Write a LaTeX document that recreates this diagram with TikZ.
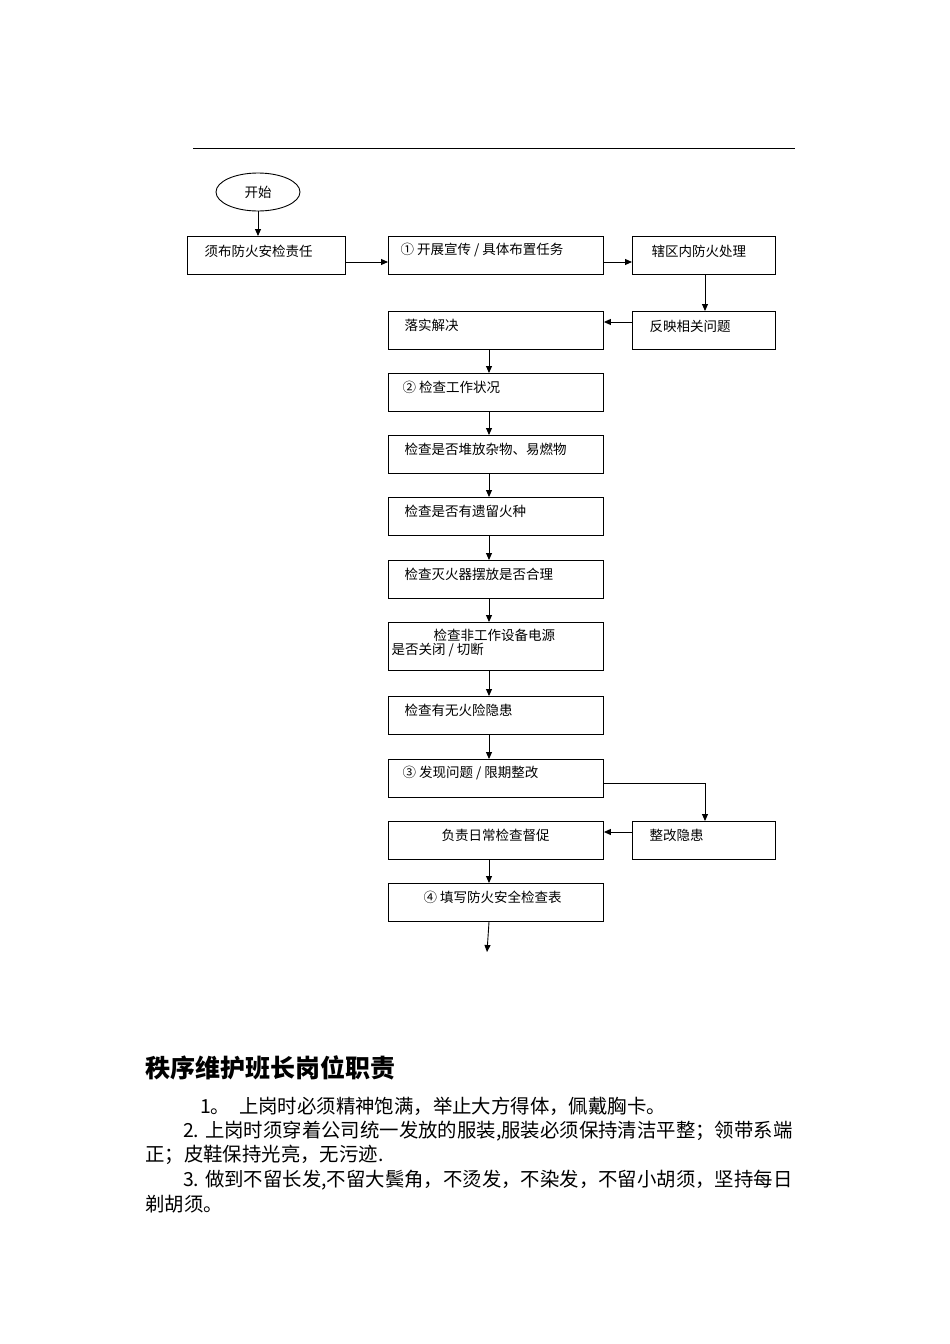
\documentclass[tikz,border=0pt]{standalone}
\usepackage{fontspec}
\setmainfont{Noto Sans CJK SC}
\usetikzlibrary{shapes.geometric,arrows.meta}
\begin{document}
\begin{tikzpicture}[x=1pt,y=-1pt,
  bx/.style={draw,line width=0.9pt,minimum height=38pt,inner sep=0pt},
  wb/.style={bx,minimum width=215pt},
  sb/.style={bx,minimum width=143pt},
  ar/.style={draw,line width=0.9pt,-{Triangle[length=7pt,width=6pt]}},
  tx/.style={font=\fontsize{13.5}{15}\selectfont,anchor=west},
  pt/.style={font=\fontsize{19.4}{22}\selectfont,anchor=west,inner sep=0pt}]
\useasboundingbox (0,0) rectangle (950,1344);
\draw[line width=0.9pt] (193,148) -- (795,148);
\node[draw,ellipse,line width=0.9pt,minimum width=84pt,minimum height=38pt,font=\fontsize{13.5}{15}\selectfont] (s) at (258,192) {开始};
\node[bx,minimum width=158pt,anchor=north west] (b1) at (187,236) {};
\node[tx] at (201,251) {须布防火安检责任};
\node[wb,anchor=north west] (b2) at (388,236) {};
\node[tx] at (397,250) {① 开展宣传 / 具体布置任务};
\node[sb,anchor=north west] (b3) at (632,236) {};
\node[tx] at (648,251) {辖区内防火处理};
\node[sb,anchor=north west] (b4) at (632,311) {};
\node[tx] at (646,326) {反映相关问题};
\node[wb,anchor=north west] (c1) at (388,311) {};
\node[tx] at (401,325) {落实解决};
\node[wb,anchor=north west] (c2) at (388,373) {};
\node[tx] at (399,387) {② 检查工作状况};
\node[wb,anchor=north west] (c3) at (388,435) {};
\node[tx] at (401,449) {检查是否堆放杂物、易燃物};
\node[wb,anchor=north west] (c4) at (388,497) {};
\node[tx] at (401,511) {检查是否有遗留火种};
\node[wb,anchor=north west] (c5) at (388,560) {};
\node[tx] at (401,574) {检查灭火器摆放是否合理};
\node[wb,minimum height=48pt,anchor=north west] (c6) at (388,622) {};
\node[tx] at (430,635) {检查非工作设备电源};
\node[tx] at (388,650) {是否关闭 / 切断};
\node[wb,anchor=north west] (c7) at (388,696) {};
\node[tx] at (401,710) {检查有无火险隐患};
\node[wb,anchor=north west] (c8) at (388,759) {};
\node[tx] at (399,773) {③ 发现问题 / 限期整改};
\node[sb,anchor=north west] (b5) at (632,821) {};
\node[tx] at (646,835) {整改隐患};
\node[wb,anchor=north west] (c9) at (388,821) {};
\node[tx] at (438,835) {负责日常检查督促};
\node[wb,anchor=north west] (c10) at (388,883) {};
\node[tx] at (420,897) {④ 填写防火安全检查表};
\coordinate (e) at (487,952);
\draw[ar] (s.south) -- (b1.north -| s.south);
\draw[ar] (b1.east |- 0,262) -- (b2.west |- 0,262);
\draw[ar] (b2.east |- 0,262) -- (b3.west |- 0,262);
\draw[ar] (b3.south -| 705,0) -- (b4.north -| 705,0);
\draw[ar] (b4.west |- 0,322) -- (c1.east |- 0,322);
\foreach \a/\b in {c1/c2,c2/c3,c3/c4,c4/c5,c5/c6,c6/c7,c7/c8,c9/c10}
  \draw[ar] (\a.south -| 489,0) -- (\b.north -| 489,0);
\draw[ar] (c10.south -| 489,0) -- (e);
\draw[ar] (c8.east |- 0,783) -| (b5.north -| 705,0);
\draw[ar] (b5.west |- 0,832) -- (c9.east |- 0,832);
\node[anchor=west,font=\bfseries\fontsize{25}{28}\selectfont,inner sep=0pt] (t) at (145,1068) {秩序维护班长岗位职责};
\node[pt] (p1) at (200,1106) {1。\ \ 上岗时必须精神饱满，举止大方得体，佩戴胸卡。};
\node[pt] (p2) at (183,1131) {2. 上岗时须穿着公司统一发放的服装,服装必须保持清洁平整；领带系端};
\node[pt] (p3) at (145,1155) {正；皮鞋保持光亮，无污迹.};
\node[pt] (p4) at (183,1180) {3. 做到不留长发,不留大鬓角，不烫发，不染发，不留小胡须，坚持每日};
\node[pt] (p5) at (145,1204) {剃胡须。};
\end{tikzpicture}
\end{document}
